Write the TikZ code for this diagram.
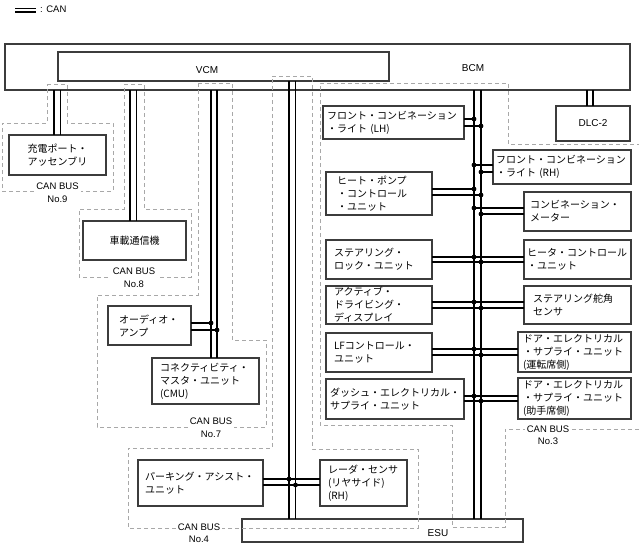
\documentclass[tikz,border=0pt]{standalone}
\usepackage{fontspec}
\setmainfont{Liberation Sans}
\newfontfamily\jpfont{Noto Sans CJK JP}
\definecolor{boxc}{HTML}{3C3C3C}
\definecolor{dashc}{HTML}{A8A8A8}
\tikzset{
  dev/.style={draw=boxc, line width=1.1pt, fill=white, anchor=north west, inner ysep=0pt, outer sep=0pt, align=left, font=\jpfont\fontsize{10}{13}\selectfont},
  cbox/.style={draw=boxc, line width=1.1pt, anchor=north west, inner sep=0pt, outer sep=0pt, align=center, font=\fontsize{10}{12}\selectfont},
  jpc/.style={font=\jpfont\fontsize{10}{12.5}\selectfont},
  busa/.style={line width=1.8pt},
  busb/.style={line width=1.4pt},
  region/.style={draw=dashc, line width=0.8pt, dash pattern=on 4pt off 3pt},
  canlab/.style={fill=white, inner xsep=2pt, inner ysep=0.5pt, align=center, font=\fontsize{9.5}{12.5}\selectfont},
  plain/.style={inner sep=0pt, font=\fontsize{10}{12}\selectfont},
  jn/.style={fill=black}
}
\newcommand\devbox[7]{%
  \pgfmathsetmacro\dbw{#4-#2}\pgfmathsetmacro\dbh{#5-#3}\pgfmathsetmacro\dbt{#4-#2-2*#6}%
  \node[dev, minimum width=\dbw pt, minimum height=\dbh pt, text width=\dbt pt, inner xsep=#6 pt] (#1) at (#2,#3) {#7};}
\newcommand\cenbox[7][]{%
  \pgfmathsetmacro\dbw{#5-#3}\pgfmathsetmacro\dbh{#6-#4}%
  \node[cbox, minimum width=\dbw pt, minimum height=\dbh pt, #1] (#2) at (#3,#4) {#7};}
\newcommand\jdot[1]{\fill[jn] #1 circle[radius=2.4pt];}
\begin{document}
\begin{tikzpicture}[x=1pt,y=-1pt]
\useasboundingbox (0,0) rectangle (640,546);
% legend
\draw[line width=1.4pt] (15,8.4) -- (36,8.4);
\draw[line width=1.4pt] (15,11.8) -- (36,11.8);
\node[plain, anchor=west, font=\fontsize{9.5}{11}\selectfont] (legend) at (40,9.6) {: CAN};

% bus x coordinates
\coordinate (b1a) at (54,0);   \coordinate (b1b) at (60.5,0);
\coordinate (b2a) at (130,0);  \coordinate (b2b) at (136.5,0);
\coordinate (b3a) at (211,0);  \coordinate (b3b) at (217,0);
\coordinate (b4a) at (289,0);  \coordinate (b4b) at (295.5,0);
\coordinate (b5a) at (474,0);  \coordinate (b5b) at (481,0);
\coordinate (bda) at (587,0);  \coordinate (bdb) at (593,0);
% link levels
\foreach \v in {119,126,165,172,189,195,208,214,257,262,302,308,349,355,396,401,323,330,479,485}
  {\coordinate (h\v) at (0,\v);}

% main modules
\cenbox{bcm}{5}{44}{630}{90}{}
\cenbox{vcm}{58}{52}{389}{81}{}
\node[plain] (bcmlab) at (473,68) {BCM};
\node[plain] (vcmlab) at (207,70) {VCM};
\cenbox[fill=white]{esu}{242}{519}{523}{542}{}
\node[plain] (esulab) at (438,533) {ESU};
\cenbox{dlc}{556}{106}{630}{141}{DLC-2}
\cenbox[jpc]{chg}{9}{135}{106}{175}{充電ポート・\\アッセンブリ}
\cenbox[jpc]{tcu}{83}{221}{186}{260}{車載通信機}

% bus pairs
\draw[busa] (b1a |- bcm.south) -- (b1a |- chg.north);
\draw[busb] (b1b |- bcm.south) -- (b1b |- chg.north);
\draw[busa] (b2a |- bcm.south) -- (b2a |- tcu.north);
\draw[busb] (b2b |- bcm.south) -- (b2b |- tcu.north);
\draw[busa] (bda |- bcm.south) -- (bda |- dlc.north);
\draw[busb] (bdb |- bcm.south) -- (bdb |- dlc.north);
\draw[busa] (b4a |- vcm.south) -- (b4a |- esu.north);
\draw[busb] (b4b |- vcm.south) -- (b4b |- esu.north);
\draw[busa] (b5a |- bcm.south) -- (b5a |- esu.north);
\draw[busb] (b5b |- bcm.south) -- (b5b |- esu.north);

% devices on CAN BUS No.3
\devbox{flh}{323}{106}{464}{139}{4}{フロント・コンビネーション\\・ライト (LH)}
\devbox{frh}{493}{150}{631}{184}{3}{フロント・コンビネーション\\・ライト (RH)}
\devbox{hpc}{326}{172}{432}{215}{11}{ヒート・ポンプ\\・コントロール\\・ユニット}
\devbox{cmt}{524}{192}{631}{231}{6}{コンビネーション・\\メーター}
\devbox{slu}{326}{240}{432}{279}{8}{ステアリング・\\ロック・ユニット}
\devbox{hcu}{524}{240}{631}{279}{3}{ヒータ・コントロール\\・ユニット}
\devbox{add}{326}{286}{432}{324}{8}{アクティブ・\\ドライビング・\\ディスプレイ}
\devbox{sas}{524}{286}{631}{324}{9}{ステアリング舵角\\センサ}
\devbox{lfc}{326}{333}{432}{372}{8}{LFコントロール・\\ユニット}
\devbox{ddr}{518}{332}{631}{372}{5}{ドア・エレクトリカル\\・サプライ・ユニット\\(運転席側)}
\devbox{des}{326}{379}{464}{419}{4}{ダッシュ・エレクトリカル・\\サプライ・ユニット}
\devbox{dps}{518}{378}{631}{419}{5}{ドア・エレクトリカル\\・サプライ・ユニット\\(助手席側)}
% other devices
\devbox{rad}{320}{460}{407}{506}{8}{レーダ・センサ\\(リヤサイド)\\(RH)}
\devbox{pas}{138}{460}{263}{506}{7}{パーキング・アシスト・\\ユニット}
\devbox{amp}{108}{306}{191}{345}{11}{オーディオ・\\アンプ}
\devbox{cmu}{152}{358}{259}{404}{8}{コネクティビティ・\\マスタ・ユニット\\(CMU)}

% CAN BUS No.7 pair
\draw[busa] (b3a |- bcm.south) -- (b3a |- cmu.north);
\draw[busb] (b3b |- bcm.south) -- (b3b |- cmu.north);
\draw[busa] (amp.east |- h323) -- (b3a |- h323);
\draw[busb] (amp.east |- h330) -- (b3b |- h330);
\jdot{(b3a |- h323)} \jdot{(b3b |- h330)}

% CAN BUS No.4 links
\draw[busa] (pas.east |- h479) -- (rad.west |- h479);
\draw[busb] (pas.east |- h485) -- (rad.west |- h485);
\jdot{(b4a |- h479)} \jdot{(b4b |- h485)}

% CAN BUS No.3 links
\draw[busa] (flh.east |- h119) -- (b5a |- h119);
\draw[busb] (flh.east |- h126) -- (b5b |- h126);
\jdot{(b5a |- h119)} \jdot{(b5b |- h126)}
\draw[busa] (b5a |- h165) -- (frh.west |- h165);
\draw[busb] (b5b |- h172) -- (frh.west |- h172);
\jdot{(b5a |- h165)} \jdot{(b5b |- h172)}
\draw[busa] (hpc.east |- h189) -- (b5a |- h189);
\draw[busb] (hpc.east |- h195) -- (b5b |- h195);
\jdot{(b5a |- h189)} \jdot{(b5b |- h195)}
\draw[busa] (b5a |- h208) -- (cmt.west |- h208);
\draw[busb] (b5b |- h214) -- (cmt.west |- h214);
\jdot{(b5a |- h208)} \jdot{(b5b |- h214)}
\draw[busa] (slu.east |- h257) -- (hcu.west |- h257);
\draw[busb] (slu.east |- h262) -- (hcu.west |- h262);
\jdot{(b5a |- h257)} \jdot{(b5b |- h262)}
\draw[busa] (add.east |- h302) -- (sas.west |- h302);
\draw[busb] (add.east |- h308) -- (sas.west |- h308);
\jdot{(b5a |- h302)} \jdot{(b5b |- h308)}
\draw[busa] (lfc.east |- h349) -- (ddr.west |- h349);
\draw[busb] (lfc.east |- h355) -- (ddr.west |- h355);
\jdot{(b5a |- h349)} \jdot{(b5b |- h355)}
\draw[busa] (des.east |- h396) -- (dps.west |- h396);
\draw[busb] (des.east |- h401) -- (dps.west |- h401);
\jdot{(b5a |- h396)} \jdot{(b5b |- h401)}

% dashed bus regions
\draw[region] (47,84) -- (67,84) -- (67,123) -- (113,123) -- (113,191) -- (2,191) -- (2,123) -- (47,123) -- cycle;
\draw[region] (124,84) -- (144,84) -- (144,209) -- (191,209) -- (191,277) -- (79,277) -- (79,209) -- (124,209) -- cycle;
\draw[region] (198,83) -- (232,83) -- (232,340) -- (266,340) -- (266,427) -- (97,427) -- (97,295) -- (198,295) -- cycle;
\draw[region] (272,76) -- (312,76) -- (312,449) -- (418,449) -- (418,528) -- (128,528) -- (128,448) -- (272,448) -- cycle;
\draw[region] (639,429) -- (505,429) -- (505,527) -- (452,527) -- (452,425) -- (320,425) -- (320,83) -- (508,83) -- (508,144) -- (639,144);

% bus labels
\node[canlab] (can9) at (57.5,192.5) {CAN BUS\\No.9};
\node[canlab] (can8) at (134,277.5) {CAN BUS\\No.8};
\node[canlab] (can7) at (211,427.5) {CAN BUS\\No.7};
\node[canlab] (can4) at (199,533) {CAN BUS\\No.4};
\node[canlab] (can3) at (548,435) {CAN BUS\\No.3};
\end{tikzpicture}
\end{document}
